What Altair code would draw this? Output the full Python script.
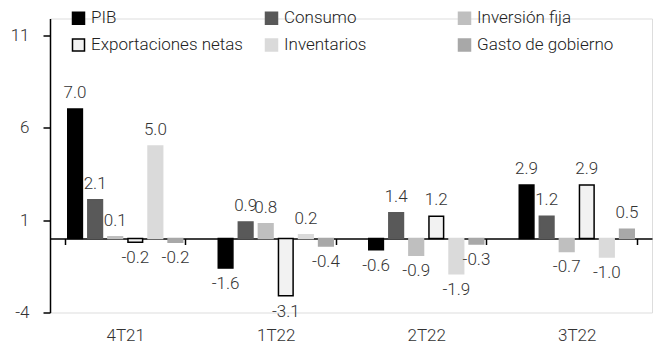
import altair as alt
import pandas as pd

categories = ["4T21", "1T22", "2T22", "3T22"]
series = ["PIB", "Consumo", "Inversión fija", "Exportaciones netas", "Inventarios", "Gasto de gobierno"]
pib = [7.0, -1.6, -0.6, 2.9]
consumo = [2.1, 0.9, 1.4, 1.2]
inversion = [0.1, 0.8, -0.9, -0.7]
exportaciones = [-0.2, -3.1, 1.2, 2.9]
inventarios = [5.0, 0.2, -1.9, -1.0]
gasto = [-0.2, -0.4, -0.3, 0.5]
y_ticks = [-4, 1, 6, 11]

fills = ["#000000", "#595959", "#bfbfbf", "#f2f2f2", "#dadada", "#a8a8a8"]
strokes = ["#000000", "#595959", "#bfbfbf", "#000000", "#dadada", "#a8a8a8"]

values = [pib, consumo, inversion, exportaciones, inventarios, gasto]
rows = []
for s, vals in zip(series, values):
    for c, v in zip(categories, vals):
        rows.append({"cat": c, "serie": s, "v": v, "lab": f"{v:.1f}"})
df = pd.DataFrame(rows)

FONT = "Roboto"
TXT = "#333333"

leg = alt.Legend(
    title=None, orient="none", legendX=20, legendY=-9, columns=3, direction="horizontal",
    gridAlign="all", symbolType="square", symbolSize=144, symbolStrokeWidth=1.5,
    labelFont=FONT, labelFontWeight=300, labelFontSize=17, labelColor="#222222",
    rowPadding=8, columnPadding=19, padding=0, labelOffset=4, labelLimit=400,
)

x_enc = alt.X(
    "cat:N", sort=categories, title=None,
    scale=alt.Scale(paddingInner=0.2, paddingOuter=0.1),
    axis=alt.Axis(
        offset=-74, domainColor="#000000", domainWidth=1.5, tickBand="extent",
        tickColor="#000000", tickWidth=1.5, tickSize=6, labelAngle=0,
        labelFont=FONT, labelFontWeight=300, labelFontSize=17, labelColor=TXT,
        labelPadding=83,
    ),
)
xo_enc = alt.XOffset("serie:N", sort=series, scale=alt.Scale(paddingInner=0.27, paddingOuter=0.135))
y_enc = alt.Y(
    "v:Q", title=None,
    scale=alt.Scale(domain=[-4, 11.9], nice=False, zero=False),
    axis=alt.Axis(
        values=y_ticks, grid=False, domainColor="#000000", domainWidth=1.5,
        tickColor="#000000", tickWidth=1.5, tickSize=7, labelPadding=14,
        labelFont=FONT, labelFontWeight=300, labelFontSize=17, labelColor=TXT,
        labelExpr="datum.value + ''",
    ),
)

bars = alt.Chart(df).mark_bar(strokeWidth=1.5).encode(
    x=x_enc, xOffset=xo_enc, y=y_enc,
    color=alt.Color("serie:N", sort=series, scale=alt.Scale(domain=series, range=fills), legend=leg),
    stroke=alt.Stroke("serie:N", sort=series, scale=alt.Scale(domain=series, range=strokes), legend=leg),
)

pos = alt.Chart(df).transform_filter("datum.v >= 0").mark_text(
    baseline="bottom", dy=-7, font=FONT, fontWeight=300, fontSize=17, color=TXT
).encode(x=alt.X("cat:N", sort=categories), xOffset=alt.XOffset("serie:N", sort=series), y="v:Q", text="lab:N")

neg = alt.Chart(df).transform_filter("datum.v < 0").mark_text(
    baseline="top", dy=8, font=FONT, fontWeight=300, fontSize=17, color=TXT
).encode(x=alt.X("cat:N", sort=categories), xOffset=alt.XOffset("serie:N", sort=series), y="v:Q", text="lab:N")

chart = alt.layer(bars, pos, neg).properties(
    width=602, height=294,
    autosize=alt.AutoSizeParams(type="none"),
    padding={"left": 50, "top": 18.5, "right": 1, "bottom": 32.5},
).configure_view(stroke=None).configure(background="white")

chart.save("out.html", embed_options={"renderer": "svg", "actions": False})
